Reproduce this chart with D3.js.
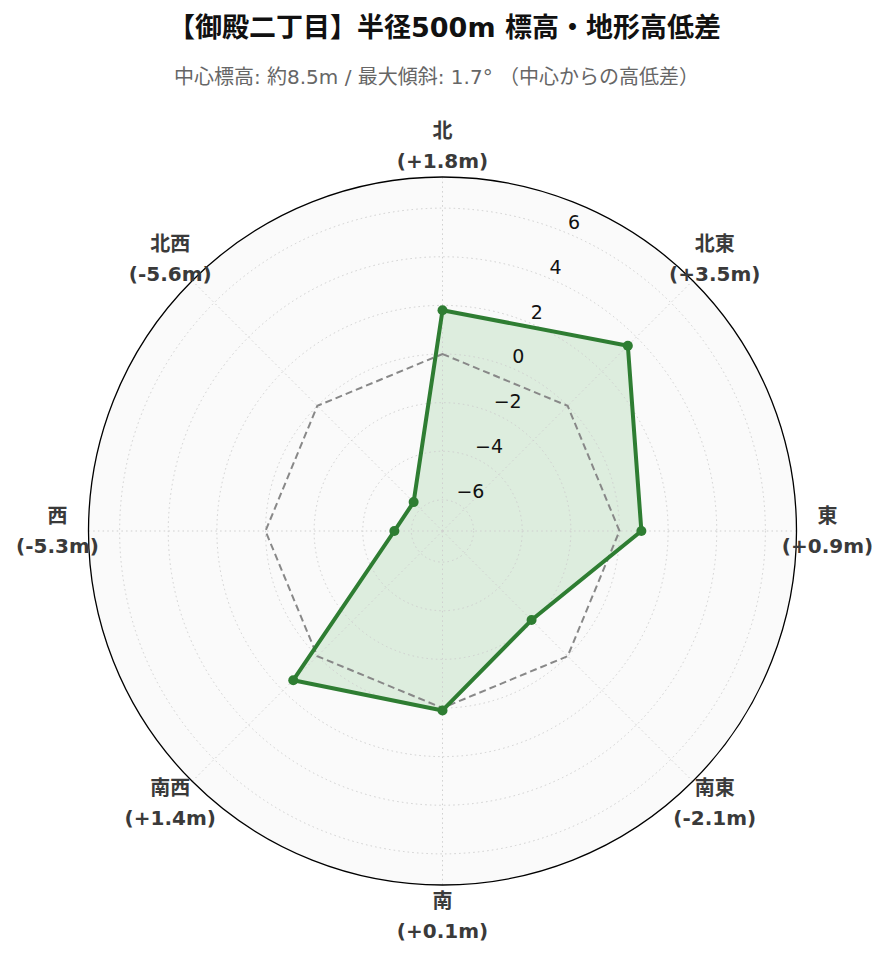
<!DOCTYPE html>
<html><head><meta charset="utf-8">
<script src="https://cdn.jsdelivr.net/npm/d3@7/dist/d3.min.js"></script>
<style>body{margin:0;background:#fff;} svg{display:block;}</style>
</head><body>
<svg id="chart" width="889" height="962"></svg>
<script>
const directions = ["北","北東","東","南東","南","南西","西","北西"];
const diffs = [1.8, 3.5, 0.9, -2.1, 0.1, 1.4, -5.3, -5.6];
const diffLabels = ["(+1.8m)","(+3.5m)","(+0.9m)","(-2.1m)","(+0.1m)","(+1.4m)","(-5.3m)","(-5.6m)"];
const radialTicks = [-6, -4, -2, 0, 2, 4, 6];
const radialDomain = [-7.28, 7.28];
const titleText = "【御殿二丁目】半径500m 標高・地形高低差";
const subtitleText = "中心標高: 約8.5m / 最大傾斜: 1.7° （中心からの高低差）";

const svg = d3.select("#chart");
const cx = 442.5, cy = 531, R = 354;
const g = svg.append("g").attr("transform", `translate(${cx},${cy})`);

const r = d3.scaleLinear().domain(radialDomain).range([0, R]);
const ang = d3.scalePoint().domain(directions).range([0, 2*Math.PI*7/8]);
const px = (a, rr) => rr*Math.sin(a);
const py = (a, rr) => -rr*Math.cos(a);

g.append("circle").attr("r", R).attr("fill", "#fafafa");

const radial = d3.lineRadial().angle((d,i)=>ang(directions[i])).radius(d=>r(d)).curve(d3.curveLinearClosed);
g.append("path").attr("d", radial(diffs)).attr("fill", "#4caf50").attr("fill-opacity", 0.16).attr("stroke","none");

g.selectAll("circle.grid").data(radialTicks).join("circle")
  .attr("class","grid").attr("r", d=>r(d)).attr("fill","none")
  .attr("stroke","#cfcfcf").attr("stroke-width",1).attr("stroke-dasharray","1.5,3.2");
g.selectAll("line.spoke").data(directions).join("line")
  .attr("x1",0).attr("y1",0)
  .attr("x2", d=>px(ang(d),R)).attr("y2", d=>py(ang(d),R))
  .attr("stroke","#cfcfcf").attr("stroke-width",1).attr("stroke-dasharray","1.5,3.2");

const zeros = directions.map(()=>0);
g.append("path").attr("d", radial(zeros)).attr("fill","none")
  .attr("stroke","#888").attr("stroke-width",2).attr("stroke-dasharray","7,4");

g.append("path").attr("d", radial(diffs)).attr("fill","none")
  .attr("stroke","#2e7d32").attr("stroke-width",4).attr("stroke-linejoin","round");
g.selectAll("circle.pt").data(diffs).join("circle")
  .attr("class","pt")
  .attr("cx",(d,i)=>px(ang(directions[i]), r(d)))
  .attr("cy",(d,i)=>py(ang(directions[i]), r(d)))
  .attr("r",5).attr("fill","#2e7d32");

g.append("circle").attr("r", R).attr("fill","none").attr("stroke","#000").attr("stroke-width",1.3);

const la = Math.PI/8;
g.selectAll("text.rt").data(radialTicks).join("text")
  .attr("class","rt")
  .attr("x", d=>px(la, r(d)) + 2)
  .attr("y", d=>py(la, r(d)) - 4)
  .attr("text-anchor","start")
  .attr("font-family","'DejaVu Sans', sans-serif")
  .attr("font-size",19).attr("fill","#111")
  .text(d=> d<0 ? "\u2212"+Math.abs(d) : String(d));

const lr = 385;
const lab = g.selectAll("g.al").data(directions).join("g").attr("class","al")
  .attr("transform", d=>`translate(${px(ang(d),lr)},${py(ang(d),lr)})`);
lab.append("text").attr("y",-15).attr("dy","0.35em")
  .attr("text-anchor","middle").attr("font-family","'DejaVu Sans','Noto Sans CJK JP',sans-serif")
  .attr("font-weight","bold").attr("font-size",20).attr("fill","#3a3a3a").text(d=>d);
lab.append("text").attr("y",15).attr("dy","0.35em")
  .attr("text-anchor","middle").attr("font-family","'DejaVu Sans','Noto Sans CJK JP',sans-serif")
  .attr("font-weight","bold").attr("font-size",20).attr("fill","#3a3a3a").text((d,i)=>diffLabels[i]);

svg.append("text").attr("x",444.5).attr("y",28).attr("dy","0.35em").attr("text-anchor","middle")
  .attr("font-family","'DejaVu Sans','Noto Sans CJK JP',sans-serif").attr("font-weight","bold")
  .attr("font-size",27).attr("fill","#111").text(titleText);
svg.append("text").attr("x",436.5).attr("y",77).attr("dy","0.35em").attr("text-anchor","middle")
  .attr("font-family","'DejaVu Sans','Noto Sans CJK JP',sans-serif")
  .attr("font-size",20).attr("fill","#666").text(subtitleText);
</script>
</body></html>
